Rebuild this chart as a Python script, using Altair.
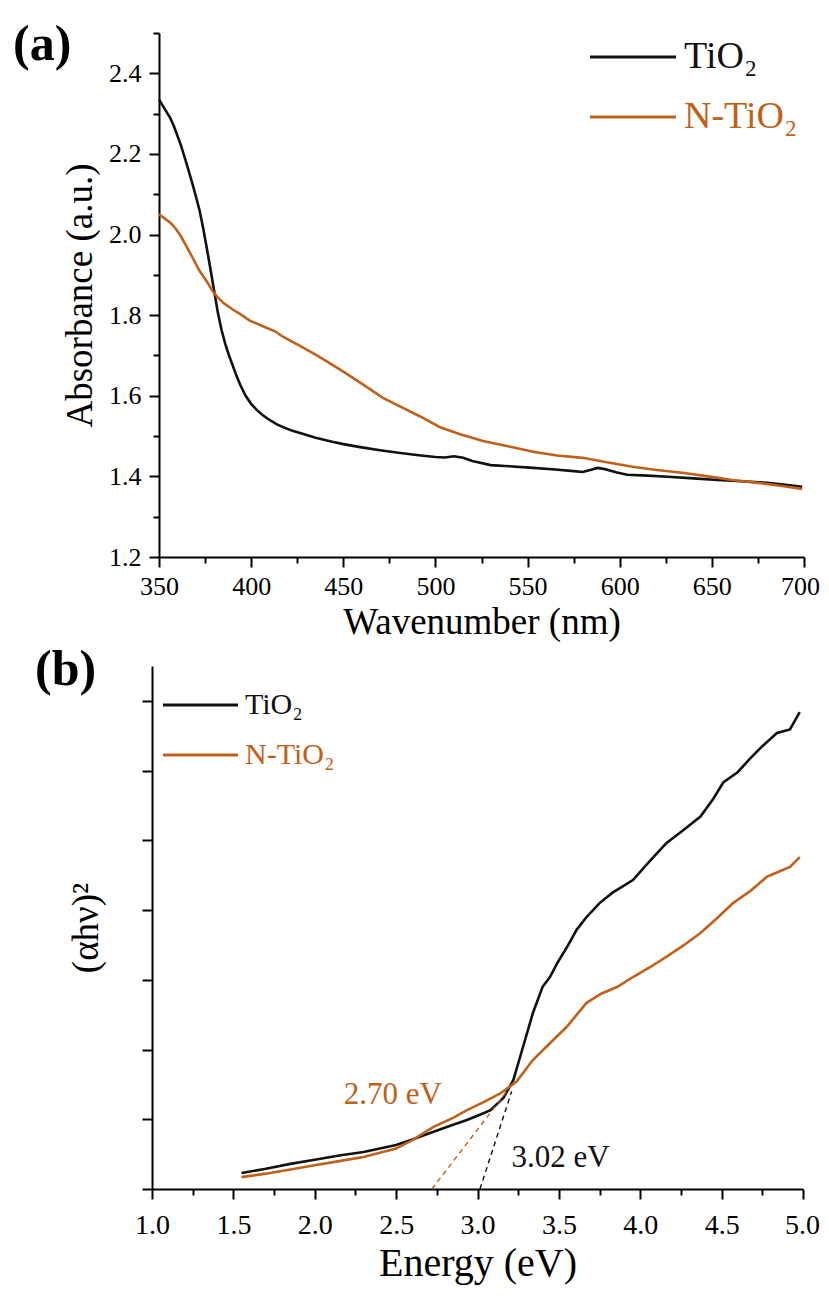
import altair as alt
import pandas as pd

FONT = "Liberation Serif"
SERIES = ["TiO₂", "N-TiO₂"]
COLORS = ["#111111", "#C0601A"]
PANEL_TAGS = ["(a)", "(b)"]

# ---- panel (a): absorbance spectra ----
wl_tio2 = [350, 352, 354, 356, 358, 360, 362, 364, 366, 368, 370, 372, 374, 376, 378, 380, 382, 384,
           386, 388, 390, 392, 394, 397, 400, 403, 406, 410, 414, 418, 422, 427, 435, 444, 450, 460,
           470, 481, 492, 500, 505, 510, 515, 520, 530, 540, 553, 565, 575, 580, 584, 588, 592, 598,
           604, 615, 626, 640, 653, 666, 680, 690, 699]
abs_tio2 = [2.335, 2.32, 2.305, 2.29, 2.27, 2.245, 2.22, 2.19, 2.16, 2.128, 2.095, 2.06, 2.015, 1.965,
            1.912, 1.858, 1.805, 1.762, 1.728, 1.70, 1.675, 1.65, 1.628, 1.60, 1.58, 1.565, 1.553,
            1.54, 1.529, 1.521, 1.514, 1.507, 1.496, 1.486, 1.48, 1.472, 1.465, 1.458, 1.452,
            1.448, 1.447, 1.450, 1.446, 1.438, 1.428, 1.425, 1.421, 1.417, 1.413, 1.411, 1.416,
            1.421, 1.418, 1.410, 1.404, 1.402, 1.399, 1.395, 1.391, 1.388, 1.384, 1.379, 1.374]
wl_ntio2 = [350, 353, 356, 359, 362, 365, 368.5, 372, 376, 379, 381.5, 385, 390, 395, 399, 404, 408.6,
            413, 417, 426, 435.7, 443, 450, 460, 471.5, 481, 492, 502.5, 513, 525.8, 540, 553, 566,
            580, 593, 607, 620, 634, 648, 661, 675, 688, 699]
abs_ntio2 = [2.05, 2.04, 2.03, 2.015, 1.995, 1.97, 1.94, 1.91, 1.883, 1.86, 1.846, 1.83, 1.814, 1.80,
             1.787, 1.777, 1.768, 1.76, 1.747, 1.725, 1.70, 1.68, 1.66, 1.63, 1.595, 1.573, 1.548,
             1.522, 1.505, 1.488, 1.474, 1.461, 1.452, 1.446, 1.435, 1.424, 1.416, 1.409, 1.400,
             1.391, 1.384, 1.376, 1.369]

# ---- panel (b): Tauc plot ----
e_tio2 = [1.55, 1.7, 1.85, 2.0, 2.15, 2.3, 2.5, 2.6, 2.73, 2.85, 2.935, 3.0, 3.08, 3.16, 3.22, 3.28,
          3.34, 3.40, 3.445, 3.49, 3.55, 3.61, 3.67, 3.75, 3.83, 3.9, 3.955, 4.05, 4.16, 4.25, 4.37,
          4.45, 4.51, 4.6, 4.67, 4.75, 4.84, 4.92, 4.98]
ahv_tio2 = [0.23, 0.29, 0.36, 0.42, 0.48, 0.53, 0.63, 0.71, 0.82, 0.92, 0.99, 1.05, 1.13, 1.31, 1.56,
            2.04, 2.52, 2.90, 3.04, 3.24, 3.47, 3.72, 3.90, 4.10, 4.25, 4.35, 4.43, 4.68, 4.96, 5.12,
            5.34, 5.60, 5.83, 5.98, 6.16, 6.35, 6.54, 6.59, 6.84]
e_ntio2 = [1.55, 1.7, 1.85, 2.0, 2.15, 2.3, 2.5, 2.6, 2.73, 2.85, 2.935, 3.04, 3.14, 3.24, 3.34, 3.445,
           3.55, 3.67, 3.76, 3.86, 3.955, 4.06, 4.16, 4.27, 4.37, 4.47, 4.57, 4.68, 4.78, 4.85, 4.92,
           4.98]
ahv_ntio2 = [0.17, 0.22, 0.28, 0.34, 0.40, 0.46, 0.58, 0.70, 0.89, 1.02, 1.13, 1.25, 1.37, 1.54, 1.85,
             2.09, 2.33, 2.67, 2.80, 2.90, 3.04, 3.18, 3.33, 3.50, 3.67, 3.88, 4.10, 4.28, 4.48, 4.55,
             4.62, 4.76]

# band-gap extrapolation lines
tauc_x_tio2 = [3.015, 3.21]
tauc_y_tio2 = [0.0, 1.40]
tauc_x_ntio2 = [2.72, 3.18]
tauc_y_ntio2 = [0.0, 1.40]
gap_labels = ["3.02 eV", "2.70 eV"]
gap_label_x = [3.51, 2.48]
gap_label_y = [0.445, 1.35]

# axis tick positions (major + minor)
x_ticks_a = list(range(350, 701, 25))
y_ticks_a = [round(1.2 + 0.1 * i, 1) for i in range(14)]
x_ticks_b = [round(1.0 + 0.25 * i, 2) for i in range(17)]
y_ticks_b = [0.5 * i for i in range(16)]


def mm_axis(values, major, fmt, title, labels=True, **kw):
    args = dict(values=values, format=fmt, title=title, labels=labels,
                tickSize={"condition": {"test": major, "value": 10}, "value": 6},
                labelOverlap=False, labelFlush=False, labelBound=False)
    if labels:
        args["labelExpr"] = f"({major}) ? datum.label : ''"
    args.update(kw)
    return alt.Axis(**args)


def line_layer(xs, ys, color, xenc, yenc, width=2.6, dash=None):
    df = pd.DataFrame({"x": xs, "y": ys})
    mk = dict(color=color, strokeWidth=width)
    if dash:
        mk["strokeDash"] = dash
    return alt.Chart(df).mark_line(**mk).encode(x=xenc, y=yenc)


def legend_layers(names, colors, x0, x1, xt, ys, size):
    out = []
    for name, col, y in zip(names, colors, ys):
        d = alt.Data(values=[{"label": name}])
        out.append(alt.Chart(d).mark_rule(color=col, strokeWidth=3).encode(
            x=alt.value(x0), x2=alt.value(x1), y=alt.value(y)))
        out.append(alt.Chart(d).mark_text(align="left", baseline="middle", font=FONT,
                                          fontSize=size, color=col).encode(
            x=alt.value(xt), y=alt.value(y), text="label:N"))
    return out


def tag_layer(tag, x, y):
    d = alt.Data(values=[{"t": tag}])
    return alt.Chart(d).mark_text(align="left", baseline="middle", font=FONT, fontSize=50,
                                  fontWeight="bold", color="black").encode(
        x=alt.value(x), y=alt.value(y), text="t:N")


# ---------- panel (a) ----------
W = 652
xa = alt.X("x:Q", scale=alt.Scale(domain=[350, 700], range=[7, 652], nice=False, zero=False),
           axis=mm_axis(x_ticks_a, "datum.value % 50 == 0", "d", "Wavenumber (nm)",
                        labelFontSize=26, labelPadding=6, titleFontSize=37,
                        labelOffset={"condition": {"test": "datum.value == 700", "value": -4},
                                     "value": 0},
                        titleBaseline="alphabetic", titleY=76))
ya = alt.Y("y:Q", scale=alt.Scale(domain=[1.2, 2.5], nice=False, zero=False),
           axis=mm_axis(y_ticks_a, "abs(round(datum.value*5) - datum.value*5) < 0.01", ".1f",
                        "Absorbance (a.u.)", labelFontSize=26, labelPadding=8, offset=-7,
                        titleFontSize=37, titleX=-79, titleBaseline="middle"))

panel_a = alt.layer(
    line_layer(wl_tio2, abs_tio2, COLORS[0], xa, ya),
    line_layer(wl_ntio2, abs_ntio2, COLORS[1], xa, ya),
    *legend_layers(SERIES, COLORS, 438, 524, 532, [24, 84], 38),
    tag_layer(PANEL_TAGS[0], -139, 12),
).properties(width=W, height=524)

# ---------- panel (b) ----------
xb = alt.X("x:Q", scale=alt.Scale(domain=[1, 5], range=[0, 651], nice=False, zero=False),
           axis=mm_axis(x_ticks_b, "abs(round(datum.value*2) - datum.value*2) < 0.01", ".1f",
                        "Energy (eV)", labelFontSize=28, labelPadding=12, titleFontSize=40,
                        labelOffset={"condition": {"test": "datum.value == 5", "value": -1},
                                     "value": 0},
                        titleBaseline="alphabetic", titleY=86))
yb = alt.Y("y:Q", scale=alt.Scale(domain=[0, 7.5], nice=False, zero=False),
           axis=mm_axis(y_ticks_b, "abs(round(datum.value) - datum.value) < 0.01", "", "(αhν)²",
                        labels=False, titleFontSize=37, titleX=-66, titleBaseline="middle"))

gap_df = pd.DataFrame({"x": gap_label_x, "y": gap_label_y, "t": gap_labels, "s": SERIES})
gap_text = alt.Chart(gap_df).mark_text(font=FONT, fontSize=31, align="center",
                                       baseline="middle").encode(
    x=alt.X("x:Q"), y=alt.Y("y:Q"), text="t:N",
    color=alt.Color("s:N", scale=alt.Scale(domain=SERIES, range=COLORS), legend=None))

panel_b = alt.layer(
    line_layer(e_tio2, ahv_tio2, COLORS[0], xb, yb),
    line_layer(e_ntio2, ahv_ntio2, COLORS[1], xb, yb),
    line_layer(tauc_x_tio2, tauc_y_tio2, COLORS[0], xb, yb, width=1.4, dash=[5, 4]),
    line_layer(tauc_x_ntio2, tauc_y_ntio2, COLORS[1], xb, yb, width=1.4, dash=[5, 4]),
    gap_text,
    *legend_layers(SERIES, COLORS, 11, 86, 93, [39, 89], 30),
    tag_layer(PANEL_TAGS[1], -117, 4),
).properties(width=W, height=523)

chart = alt.vconcat(panel_a, panel_b, spacing=109, bounds="flush").properties(
    padding={"left": 5, "top": 12, "right": 0, "bottom": 4}
).configure(font=FONT).configure_view(stroke=None).configure_axis(
    grid=False, domainColor="black", domainWidth=2, tickColor="black", tickWidth=2,
    labelColor="black", titleColor="black", labelFont=FONT, titleFont=FONT,
    titleFontWeight="normal")

chart.save("out.html", embed_options={"renderer": "svg", "actions": False})
